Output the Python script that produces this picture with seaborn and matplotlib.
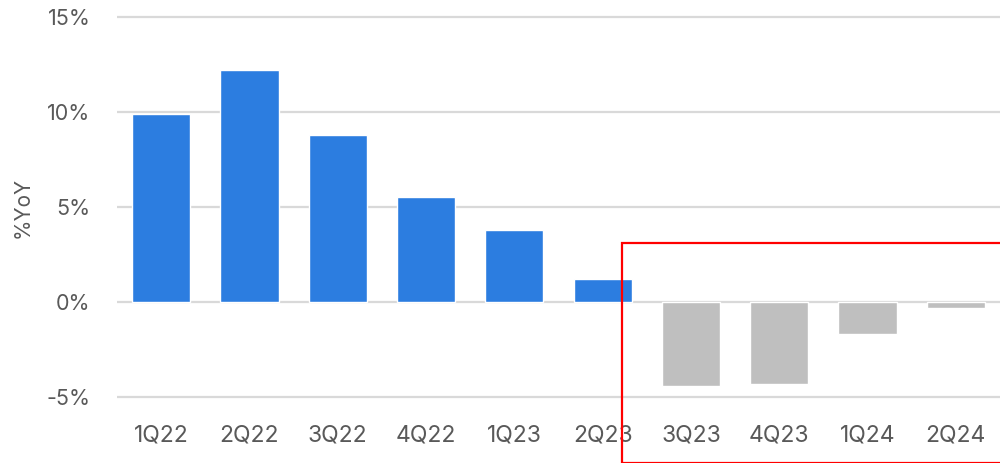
import numpy as np
import pandas as pd
import seaborn as sns
import matplotlib.pyplot as plt
from matplotlib.patches import Rectangle
from matplotlib.ticker import FuncFormatter

# quarterly values
quarters = ['1Q22', '2Q22', '3Q22', '4Q22', '1Q23', '2Q23', '3Q23', '4Q23', '1Q24', '2Q24']
yoy = [9.9, 12.2, 8.8, 5.5, 3.8, 1.2, -4.4, -4.3, -1.7, -0.3]
bar_colors = ['#2c7de0'] * 6 + ['#bfbfbf'] * 4

sns.set_style('white')
plt.rcParams['font.family'] = ['Inter', 'DejaVu Sans']

df = pd.DataFrame({'Quarter': quarters, 'YoY': yoy})

fig = plt.figure(figsize=(10, 4.63), dpi=100)
# axes spans the full height, bottom at the tick label zone
ax = fig.add_axes([0.117, 1 - 415 / 463, 0.883, 415 / 463])

ax.set_axisbelow(True)
ax.grid(True, axis='y', color='#d9d9d9', linewidth=1.6)

sns.barplot(data=df, x='Quarter', y='YoY', hue='Quarter', palette=bar_colors,
            legend=False, width=0.66, saturation=1, ax=ax)

ax.set_xlim(-0.5, 9.5)
ax.set_ylim(-(415 - 302) / 19, 15 + 17 / 19)
ax.set_yticks([-5, 0, 5, 10, 15])
ax.yaxis.set_major_formatter(FuncFormatter(lambda v, p: f'{int(v)}%'))

for s in ax.spines.values():
    s.set_visible(False)

ax.tick_params(axis='both', length=0, labelcolor='#595959')
ax.tick_params(axis='y', pad=19, labelsize=15.5)
ax.tick_params(axis='x', pad=6.5, labelsize=16.5)

ax.set_xlabel('')
ax.set_ylabel('%YoY', fontsize=15, color='#595959')
ax.yaxis.set_label_coords(-0.096, 0.5)

# red highlight box
fig.patches.append(Rectangle((622 / 1000, 0.001), 0.5, (463 - 243) / 463,
                             transform=fig.transFigure, fill=False,
                             edgecolor='#ff0000', linewidth=1.6, clip_on=False))

fig.savefig('out.png', dpi=100)
